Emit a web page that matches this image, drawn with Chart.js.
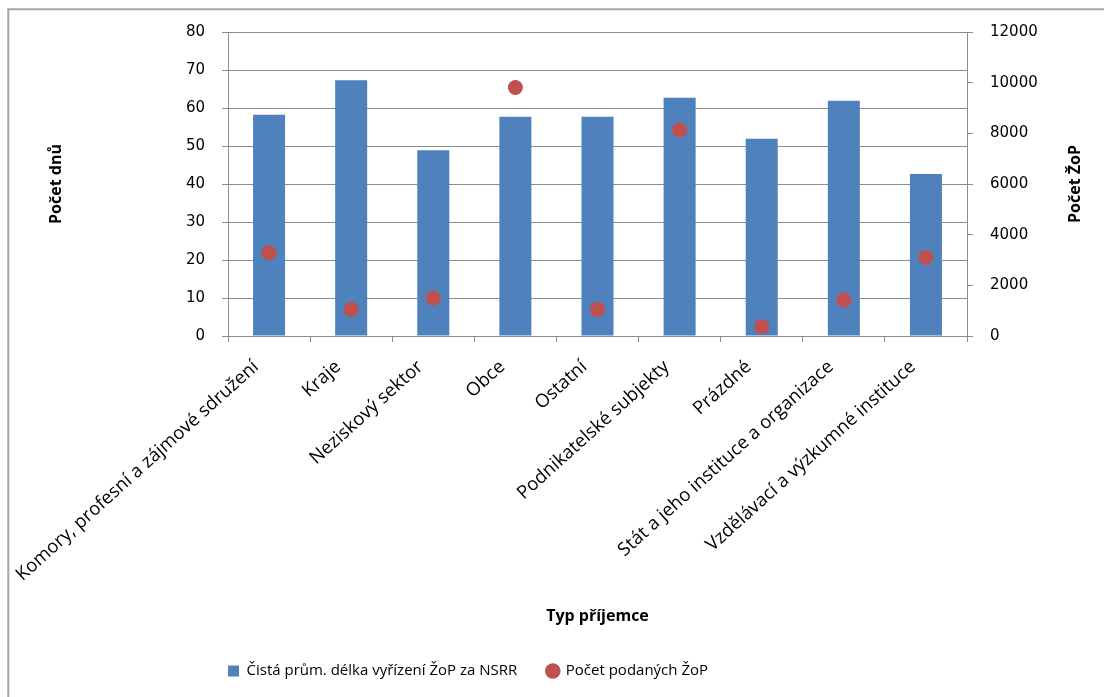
<!DOCTYPE html>
<html lang="cs">
<head>
    <meta charset="UTF-8">
    <title>Typ příjemce</title>
    <script src="https://cdn.jsdelivr.net/npm/chart.js"></script>
    <style>
        html, body { margin: 0; padding: 0; background: #fff; }
        #wrap { width: 1104px; height: 697px; position: relative; }
    </style>
</head>
<body>
<div id="wrap"><canvas id="chartCanvas" width="1104" height="697"></canvas></div>
<script>
    const categories = [
        'Komory, profesní a zájmové sdružení',
        'Kraje',
        'Neziskový sektor',
        'Obce',
        'Ostatní',
        'Podnikatelské subjekty',
        'Prázdné',
        'Stát a jeho instituce a organizace',
        'Vzdělávací a výzkumné instituce'
    ];
    // Čistá prům. délka vyřízení ŽoP za NSRR (dny, levá osa)
    const delka = [58.2, 67.3, 48.9, 57.7, 57.7, 62.7, 51.9, 61.9, 42.6];
    // Počet podaných ŽoP (pravá osa)
    const pocet = [3290, 1050, 1490, 9810, 1050, 8130, 370, 1420, 3100];
    const leftTicks = [0, 80, 10];
    const rightTicks = [0, 12000, 2000];

    const gridGray = '#8c8c8c';
    const tickFont = { family: 'DejaVu Sans', size: 15 };
    const titleFont = { family: 'Open Sans', size: 16, weight: 'bold' };

    const framePlugin = {
        id: 'frame',
        beforeDraw(chart) {
            const ctx = chart.ctx;
            ctx.save();
            ctx.strokeStyle = '#a6a6a6';
            ctx.lineWidth = 2;
            ctx.beginPath();
            ctx.moveTo(8.3, 697);
            ctx.lineTo(8.3, 9.3);
            ctx.lineTo(1104, 9.3);
            ctx.stroke();
            ctx.restore();
        },
        afterLayout(chart) {
            // legend starts under the plot like the original
            chart.legend.left = 198;
        },
        afterDraw(chart) {
            const ctx = chart.ctx;
            ctx.save();
            ctx.translate(1075, 184);
            ctx.rotate(-Math.PI / 2);
            ctx.font = 'bold 16px "Open Sans"';
            ctx.fillStyle = '#000';
            ctx.textAlign = 'center';
            ctx.textBaseline = 'middle';
            ctx.fillText('Počet ŽoP', 0, 0);
            ctx.restore();
        }
    };

    const ctx = document.getElementById('chartCanvas').getContext('2d');
    const chart = new Chart(ctx, {
        type: 'bar',
        data: {
            labels: categories,
            datasets: [
                {
                    type: 'line',
                    label: 'Počet podaných ŽoP',
                    data: pocet,
                    yAxisID: 'y1',
                    showLine: false,
                    pointStyle: 'circle',
                    pointRadius: 7.5,
                    pointHoverRadius: 7.5,
                    backgroundColor: '#c0504d',
                    borderColor: '#c0504d',
                    borderWidth: 0,
                    order: 0
                },
                {
                    type: 'bar',
                    label: 'Čistá prům. délka vyřízení ŽoP za NSRR',
                    data: delka,
                    yAxisID: 'y',
                    backgroundColor: '#4f81bd',
                    borderWidth: 0,
                    pointStyle: 'rect',
                    barPercentage: 0.39,
                    categoryPercentage: 1,
                    order: 1
                }
            ]
        },
        options: {
            responsive: false,
            animation: false,
            layout: { padding: { top: 32, bottom: 8.5, left: 0, right: 0 } },
            plugins: {
                tooltip: { enabled: false },
                legend: {
                    display: true,
                    position: 'bottom',
                    align: 'start',
                    reverse: true,
                    labels: {
                        usePointStyle: true,
                        boxWidth: 11,
                        boxHeight: 11,
                        padding: 30,
                        color: '#000',
                        font: { family: 'Open Sans', size: 15 }
                    }
                }
            },
            scales: {
                x: {
                    grid: {
                        offset: true,
                        drawOnChartArea: false,
                        color: gridGray,
                        tickLength: 6
                    },
                    border: { color: gridGray },
                    ticks: {
                        autoSkip: false,
                        minRotation: 42,
                        maxRotation: 42,
                        padding: 14,
                        labelOffset: -13,
                        color: '#000',
                        font: { family: 'Open Sans', size: 18.5 }
                    },
                    title: {
                        display: true,
                        text: 'Typ příjemce',
                        color: '#000',
                        font: titleFont,
                        padding: { top: 0, bottom: 7 }
                    },
                    afterFit(scale) { scale.height = 297.5; }
                },
                y: {
                    position: 'left',
                    min: leftTicks[0],
                    max: leftTicks[1],
                    ticks: { stepSize: leftTicks[2], padding: 17, color: '#000', font: tickFont },
                    grid: { color: gridGray, tickLength: 6 },
                    border: { color: gridGray },
                    title: {
                        display: true,
                        text: 'Počet dnů',
                        color: '#000',
                        font: titleFont,
                        padding: { top: 47, bottom: 0 }
                    },
                    afterFit(scale) { scale.width = 228; }
                },
                y1: {
                    position: 'right',
                    min: rightTicks[0],
                    max: rightTicks[1],
                    ticks: {
                        stepSize: rightTicks[2],
                        padding: 17,
                        color: '#000',
                        font: tickFont,
                        callback: (v) => String(v)
                    },
                    grid: { drawOnChartArea: false, color: gridGray, tickLength: 6 },
                    border: { color: gridGray },
                    afterFit(scale) { scale.width = 137; }
                }
            }
        },
        plugins: [framePlugin]
    });
</script>
</body>
</html>
